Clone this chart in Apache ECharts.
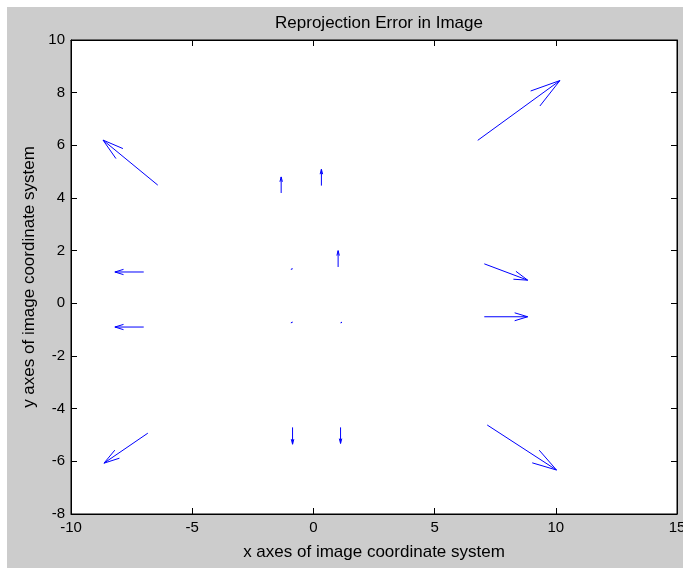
<!DOCTYPE html>
<html>
<head>
<meta charset="utf-8">
<script src="https://cdn.jsdelivr.net/npm/echarts@6/dist/echarts.min.js"></script>
<style>
  html, body { margin: 0; padding: 0; background: #fff; }
  #main { width: 683px; height: 568px; }
</style>
</head>
<body>
<div id="main"></div>
<script>
// quiver: tail points and displacement vectors (data units)
var tailX = [-6.42, -7.0, -7.0, -6.83, -1.33, 0.33, 1.02, -0.93, -0.93, 1.12, -0.86, 1.12, 6.78, 7.05, 7.05, 7.17];
var tailY = [4.49, 1.19, -0.90, -4.93, 4.19, 4.47, 1.38, 1.29, -0.74, -0.74, -4.71, -4.71, 6.19, 1.50, -0.51, -4.62];
var vecU  = [-2.26, -1.19, -1.19, -1.81, 0, 0, 0, 0.06, 0.06, 0.06, 0, 0, 3.39, 1.79, 1.79, 2.86];
var vecV  = [1.71, 0, 0, -1.14, 0.61, 0.62, 0.62, 0.02, 0.02, 0.02, -0.64, -0.61, 2.27, -0.62, 0, -1.71];

var xTicks = [-10, -5, 0, 5, 10, 15];
var yTicks = [-8, -6, -4, -2, 0, 2, 4, 6, 8, 10];

var font = "'Liberation Sans', Arial, sans-serif";
var blue = '#0000ff';

var arrows = [];
for (var i = 0; i < tailX.length; i++) {
  arrows.push([tailX[i], tailY[i], vecU[i], vecV[i]]);
}

var renderArrow = function(params, api) {
  var x = api.value(0), y = api.value(1), u = api.value(2), v = api.value(3);
  var a = 0.3, b = 0.28;
  var hx = x + u, hy = y + v;
  var p0 = api.coord([x, y]);
  var p1 = api.coord([hx, hy]);
  var b1 = api.coord([hx - a * (u + b * v), hy - a * (v - b * u)]);
  var b2 = api.coord([hx - a * (u - b * v), hy - a * (v + b * u)]);
  var st = { stroke: blue, lineWidth: 1, fill: null };
  return {
    type: 'group',
    children: [
      { type: 'polyline', shape: { points: [p0, p1] }, style: st },
      { type: 'polyline', shape: { points: [b1, p1, b2] }, style: st }
    ]
  };
};

var axisBase = function(extra) {
  var o = {
    type: 'value',
    axisLine: { show: true, onZero: false, lineStyle: { color: '#000', width: 1 } },
    axisTick: { show: true, inside: true, length: 6, lineStyle: { color: '#000' } },
    splitLine: { show: false },
    axisLabel: { show: false }
  };
  for (var k in extra) o[k] = extra[k];
  return o;
};

var chart = echarts.init(document.getElementById('main'));
chart.setOption({
  backgroundColor: '#fff',
  animation: false,
  graphic: [{
    type: 'rect',
    shape: { x: 7, y: 7, width: 676, height: 561 },
    style: { fill: '#cccccc' },
    z: -10
  }],
  title: {
    text: 'Reprojection Error in Image',
    left: 374,
    top: 10,
    textAlign: 'center',
    textStyle: { fontFamily: font, fontSize: 17, fontWeight: 'normal', color: '#000' }
  },
  grid: {
    left: 71, right: 6, top: 40, bottom: 54,
    outerBoundsMode: 'none',
    containLabel: false,
    show: true, backgroundColor: '#fff', borderColor: '#000', borderWidth: 1
  },
  xAxis: [
    axisBase({
      min: xTicks[0], max: xTicks[xTicks.length - 1], interval: 5,
      position: 'bottom',
      name: 'x axes of image coordinate system',
      nameLocation: 'middle', nameGap: 30,
      nameTextStyle: { fontFamily: font, fontSize: 17, color: '#000' },
      axisLabel: { show: true, margin: 6, fontFamily: font, fontSize: 15, color: '#000' }
    }),
    axisBase({ min: xTicks[0], max: xTicks[xTicks.length - 1], interval: 5, position: 'top' })
  ],
  yAxis: [
    axisBase({
      min: yTicks[0], max: yTicks[yTicks.length - 1], interval: 2,
      position: 'left',
      name: 'y axes of image coordinate system',
      nameLocation: 'middle', nameGap: 32,
      nameTextStyle: { fontFamily: font, fontSize: 17, color: '#000' },
      axisLabel: { show: true, margin: 6, fontFamily: font, fontSize: 15, color: '#000' }
    }),
    axisBase({ min: yTicks[0], max: yTicks[yTicks.length - 1], interval: 2, position: 'right' })
  ],
  series: [{
    type: 'custom',
    xAxisIndex: 0,
    yAxisIndex: 0,
    renderItem: renderArrow,
    encode: { x: 0, y: 1 },
    data: arrows,
    clip: true,
    silent: true
  }]
});
</script>
</body>
</html>
